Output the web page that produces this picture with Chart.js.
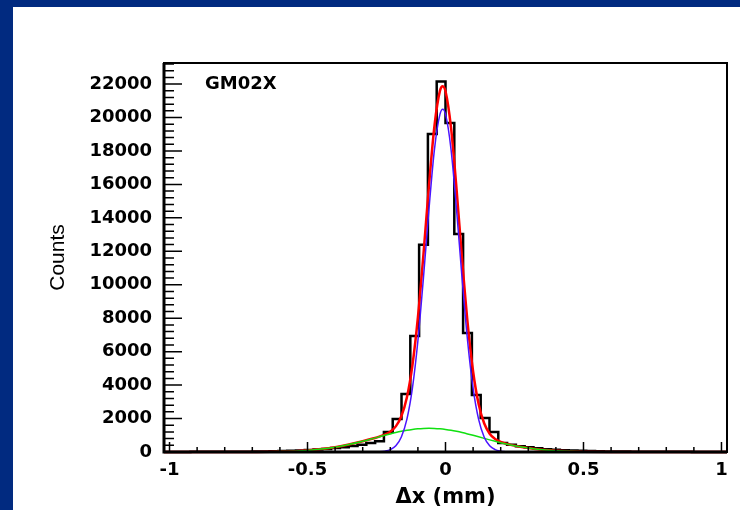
<!DOCTYPE html>
<html>
<head>
<meta charset="utf-8">
<script src="https://cdn.jsdelivr.net/npm/chart.js@4.4.1/dist/chart.umd.min.js"></script>
<style>
  html, body { margin: 0; padding: 0; }
  body { width: 740px; height: 510px; background: #012a80; overflow: hidden; position: relative; }
  #panel { position: absolute; left: 13px; top: 7px; right: 0; bottom: 0; background: #fff; }
  #wrap { position: absolute; left: 0; top: 0; width: 740px; height: 510px; }
</style>
</head>
<body>
<div id="panel"></div>
<div id="wrap"><canvas id="chart"></canvas></div>
<script>
// histogramme: 64 bins entre -1.02 et 1.02
const histRange = [-1.02, 1.02];
const binCounts = [
  6, 6, 7, 8, 9, 10, 12, 14, 17, 21, 26, 33, 42, 54, 70, 90,
  115, 145, 185, 235, 290, 360, 440, 540, 650, 1200, 1975, 3470, 6940, 12390, 19010, 22150,
  19670, 13030, 7120, 3410, 2035, 1200, 540, 440, 350, 280, 220, 170, 135, 105, 85, 68,
  55, 44, 36, 29, 24, 20, 16, 14, 12, 10, 9, 8, 7, 6, 6, 5
];

// courbes du fit
const fitX = [-1.02, -0.9, -0.8, -0.7, -0.6, -0.5, -0.45, -0.4, -0.35, -0.30,
  -0.26, -0.24, -0.22, -0.20, -0.18, -0.16, -0.14, -0.12, -0.10, -0.08, -0.06, -0.04, -0.02, -0.01,
  0, 0.02, 0.04, 0.06, 0.08, 0.10, 0.12, 0.14, 0.16, 0.18, 0.20, 0.22, 0.24, 0.26,
  0.30, 0.35, 0.4, 0.45, 0.5, 0.6, 0.7, 0.8, 0.9, 1.02];
const totalFit = [0, 0, 1, 5, 25, 97, 173, 286, 443, 639,
  819, 919, 1041, 1218, 1533, 2136, 3260, 5168, 8045, 11791, 15905, 19503, 21606, 21872,
  21568, 19391, 15721, 11542, 7738, 4813, 2866, 1716, 1096, 775, 602, 492, 411, 344,
  236, 138, 76, 39, 18, 3, 0, 0, 0, 0];
const narrowFit = [0, 0, 0, 0, 0, 0, 0, 0, 0, 0,
  5, 15, 50, 140, 370, 900, 1950, 3800, 6650, 10400, 14500, 18100, 20200, 20500,
  20200, 18100, 14500, 10400, 6650, 3800, 1950, 900, 370, 140, 50, 15, 5, 0,
  0, 0, 0, 0, 0, 0, 0, 0, 0, 0];
const wideFit = [0, 0, 1, 5, 25, 97, 173, 286, 443, 639,
  816, 906, 996, 1082, 1163, 1236, 1300, 1351, 1389, 1412, 1420, 1412, 1389, 1372,
  1351, 1300, 1236, 1163, 1082, 996, 906, 816, 726, 639, 557, 479, 408, 344,
  236, 138, 76, 39, 18, 3, 0, 0, 0, 0];

const xTicks = [-1, -0.5, 0, 0.5, 1];
const yTicks = [0, 2000, 4000, 6000, 8000, 10000, 12000, 14000, 16000, 18000, 20000, 22000];
const yMax = 23260;
const xMinorStep = 0.1;
const yMinorStep = 400;

// contour du histogramme en escalier
const binWidth = (histRange[1] - histRange[0]) / binCounts.length;
const histPoints = [];
binCounts.forEach((c, i) => {
  const lo = histRange[0] + i * binWidth;
  histPoints.push({ x: lo, y: c }, { x: lo + binWidth, y: c });
});
const toPoints = ys => fitX.map((x, i) => ({ x: x, y: ys[i] }));

const boldFont = { family: "'DejaVu Sans', sans-serif", size: 18, weight: 'bold' };

// cadre ROOT + graduations internes + étiquette
const rootFrame = {
  id: 'rootFrame',
  afterDatasetsDraw(chart) {
    const ctx = chart.ctx;
    const { left, right, top, bottom } = chart.chartArea;
    const xs = chart.scales.x, ys = chart.scales.y;
    ctx.save();
    ctx.strokeStyle = '#000';
    ctx.lineWidth = 1.5;
    ctx.beginPath();
    for (let k = 0; k * yMinorStep <= yMax; k++) {
      const v = k * yMinorStep;
      const py = ys.getPixelForValue(v);
      const len = yTicks.includes(v) ? 18 : 10;
      ctx.moveTo(left, py);
      ctx.lineTo(left + len, py);
    }
    for (let k = -10; k <= 10; k++) {
      const v = k * xMinorStep;
      const px = xs.getPixelForValue(v);
      const len = xTicks.includes(Math.round(v * 10) / 10) ? 10 : 5;
      ctx.moveTo(px, bottom);
      ctx.lineTo(px, bottom - len);
    }
    ctx.stroke();
    ctx.lineWidth = 2;
    ctx.strokeRect(left, top, right - left, bottom - top);
    ctx.lineWidth = 3;
    ctx.beginPath();
    ctx.moveTo(left, top);
    ctx.lineTo(left, bottom);
    ctx.lineTo(right, bottom);
    ctx.stroke();
    ctx.fillStyle = '#000';
    ctx.font = "bold 18px 'DejaVu Sans', sans-serif";
    ctx.textBaseline = 'middle';
    ctx.fillText('GM02X', 205, 84);
    ctx.restore();
  }
};

new Chart(document.getElementById('chart'), {
  type: 'scatter',
  data: {
    datasets: [
      { data: histPoints, showLine: true, borderColor: '#000', borderWidth: 2.5, pointRadius: 0, order: 4, clip: 4 },
      { data: toPoints(totalFit), showLine: true, borderColor: '#ff0000', borderWidth: 2.5, pointRadius: 0,
        cubicInterpolationMode: 'monotone', order: 3, clip: 4 },
      { data: toPoints(wideFit), showLine: true, borderColor: '#10e010', borderWidth: 1.5, pointRadius: 0,
        cubicInterpolationMode: 'monotone', order: 2, clip: 4 },
      { data: toPoints(narrowFit), showLine: true, borderColor: '#4a14ff', borderWidth: 1.5, pointRadius: 0,
        cubicInterpolationMode: 'monotone', order: 1, clip: 4 }
    ]
  },
  options: {
    responsive: true,
    maintainAspectRatio: false,
    animation: false,
    events: [],
    layout: { padding: { top: 63, right: 13, left: 0, bottom: 0 } },
    plugins: { legend: { display: false }, tooltip: { enabled: false } },
    scales: {
      x: {
        type: 'linear',
        min: histRange[0],
        max: histRange[1],
        grid: { display: false, drawTicks: false },
        border: { display: false },
        afterBuildTicks: s => { s.ticks = xTicks.map(v => ({ value: v })); },
        afterFit: s => { s.height = 58; },
        ticks: { color: '#000', font: boldFont, padding: 8, maxRotation: 0, callback: v => String(v) },
        title: { display: true, text: '\u0394x (mm)', color: '#000', padding: { top: 14, bottom: 0 },
          font: { family: "'DejaVu Sans', sans-serif", size: 21, weight: 'bold' } }
      },
      y: {
        min: 0,
        max: yMax,
        grid: { display: false, drawTicks: false },
        border: { display: false },
        afterBuildTicks: s => { s.ticks = yTicks.map(v => ({ value: v })); },
        afterFit: s => { s.width = 164; },
        ticks: { color: '#000', font: boldFont, padding: 12, callback: v => String(v) },
        title: { display: true, text: 'Counts', color: '#000', padding: { top: 46, bottom: 0 },
          font: { family: "'Liberation Sans', sans-serif", size: 21 } }
      }
    }
  },
  plugins: [rootFrame]
});
</script>
</body>
</html>
